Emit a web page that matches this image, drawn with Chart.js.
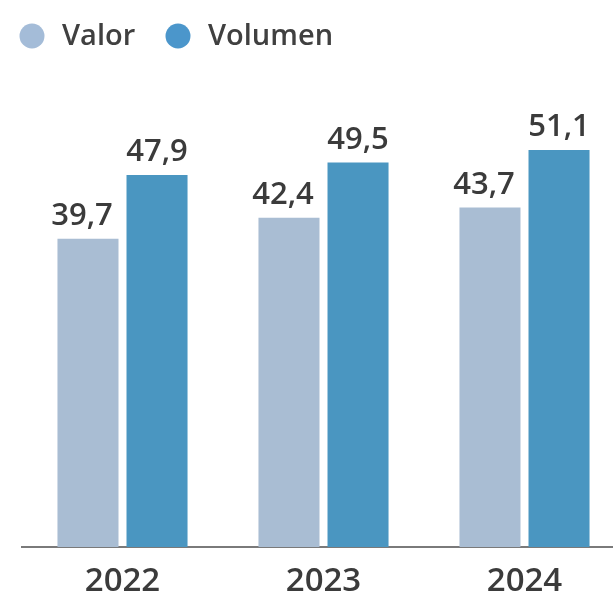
<!DOCTYPE html>
<html>
<head>
<meta charset="utf-8">
<script src="https://cdn.jsdelivr.net/npm/chart.js@4/dist/chart.umd.min.js"></script>
<style>
  html, body { margin: 0; padding: 0; background: #ffffff; overflow: hidden; }
  #wrap { width: 625px; height: 603px; position: relative; }
</style>
</head>
<body>
<div id="wrap"><canvas id="c" width="625" height="603"></canvas></div>
<script>
const categories = ['2022', '2023', '2024'];
const seriesNames = ['Valor', 'Volumen'];
const valorValues = [39.7, 42.4, 43.7];
const volumenValues = [47.9, 49.5, 51.1];

const colors = { Valor: '#a9bdd3', Volumen: '#4a96c1' };
const legendColors = { Valor: '#a4bcd8', Volumen: '#4b96cb' };
const textColor = '#3b3b3b';
const FONT = '"Open Sans", "Noto Sans", sans-serif';
const WEIGHT = '600';

function fmt(v) { return v.toFixed(1).replace('.', ','); }

const labelPlugin = {
  id: 'barLabels',
  afterDatasetsDraw(chart) {
    const ctx = chart.ctx;
    ctx.save();
    ctx.font = WEIGHT + ' 31px ' + FONT;
    ctx.fillStyle = textColor;
    ctx.textAlign = 'center';
    ctx.textBaseline = 'alphabetic';
    chart.data.datasets.forEach((ds, di) => {
      const meta = chart.getDatasetMeta(di);
      const dx = di === 0 ? -6 : 0;
      meta.data.forEach((bar, i) => {
        ctx.fillText(fmt(ds.data[i]), bar.x + dx, bar.y - 14);
      });
    });
    ctx.restore();
  }
};

const legendPlugin = {
  id: 'customLegend',
  afterDraw(chart) {
    const ctx = chart.ctx;
    ctx.save();
    ctx.font = WEIGHT + ' 29px ' + FONT;
    ctx.textBaseline = 'middle';
    ctx.textAlign = 'left';
    const items = [
      { name: seriesNames[0], cx: 32, tx: 62 },
      { name: seriesNames[1], cx: 178, tx: 208 }
    ];
    items.forEach(it => {
      ctx.beginPath();
      ctx.fillStyle = legendColors[it.name];
      ctx.arc(it.cx, 36, 12.5, 0, Math.PI * 2);
      ctx.fill();
      ctx.fillStyle = '#404040';
      ctx.fillText(it.name, it.tx, 37);
    });
    ctx.restore();
  }
};

new Chart(document.getElementById('c'), {
  type: 'bar',
  data: {
    labels: categories,
    datasets: [
      { label: seriesNames[0], data: valorValues, backgroundColor: colors.Valor,
        categoryPercentage: 0.687, barPercentage: 0.884 },
      { label: seriesNames[1], data: volumenValues, backgroundColor: colors.Volumen,
        categoryPercentage: 0.687, barPercentage: 0.884 }
    ]
  },
  options: {
    responsive: false,
    animation: false,
    devicePixelRatio: 1,
    layout: { padding: { top: 81, left: 22, right: 0, bottom: 0 } },
    plugins: { legend: { display: false }, tooltip: { enabled: false } },
    scales: {
      x: {
        grid: { display: false, drawTicks: false },
        border: { display: true, color: '#7a7a7a', width: 2 },
        ticks: { color: textColor, font: { family: FONT, size: 33, weight: WEIGHT }, padding: 15 },
        afterFit(scale) { scale.height = 56; }
      },
      y: {
        display: false,
        min: 0,
        max: 60
      }
    }
  },
  plugins: [labelPlugin, legendPlugin]
});
</script>
</body>
</html>
